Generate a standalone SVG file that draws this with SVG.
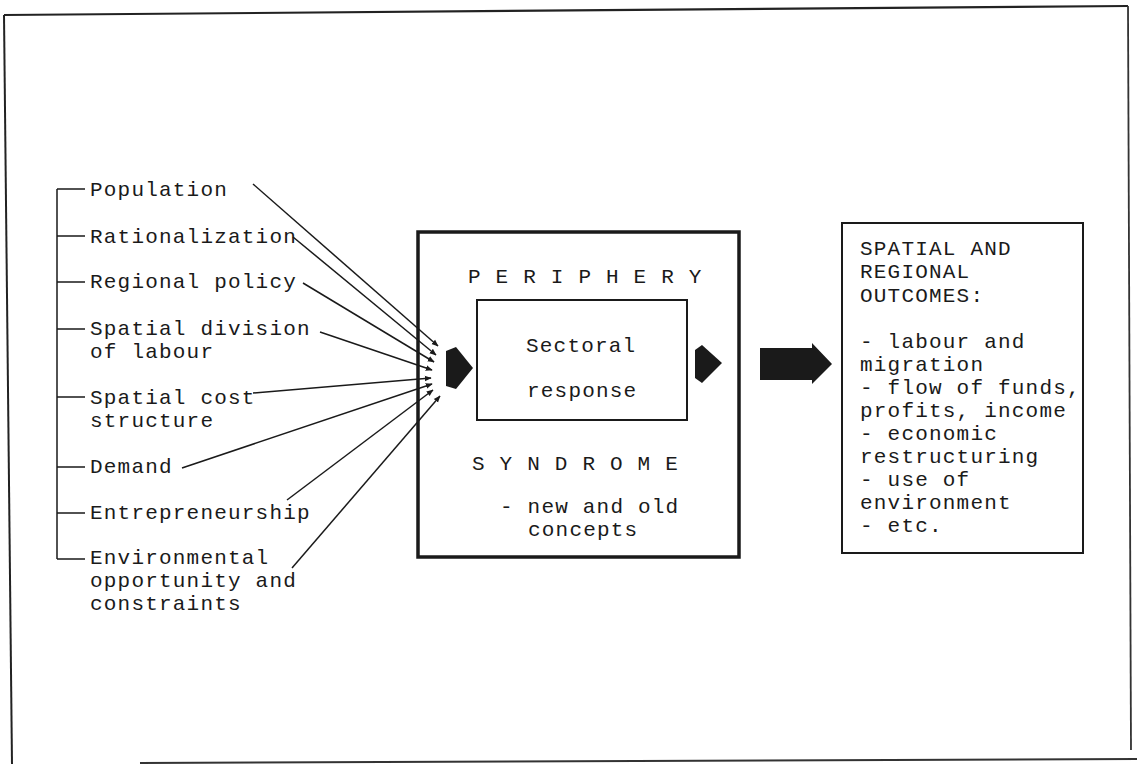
<svg xmlns="http://www.w3.org/2000/svg" width="1137" height="764" viewBox="0 0 1137 764">
<style>
text{font-family:"Liberation Mono","DejaVu Sans Mono",monospace;font-size:21px;letter-spacing:1.2px;fill:#1a1a1a}
.ln{stroke:#1a1a1a;stroke-width:1.5;fill:none}
.blk{fill:#1a1a1a;stroke:none}
</style>
<defs>
<marker id="ah" viewBox="0 0 10 10" refX="9" refY="5" markerWidth="7" markerHeight="7" markerUnits="userSpaceOnUse" orient="auto">
<path d="M0,1 L10,5 L0,9 z" fill="#1a1a1a"/>
</marker>
</defs>
<rect width="1137" height="764" fill="#fff"/>
<g id="frame">
<path d="M4,15 L1128,6" stroke="#222" stroke-width="2.2" fill="none"/>
<path d="M4,15 L12,764" stroke="#222" stroke-width="2" fill="none"/>
<path d="M1128,6 L1131,750" stroke="#333" stroke-width="1.8" fill="none"/>
<path d="M140,763 L1137,759" stroke="#333" stroke-width="2" fill="none"/>
</g>
<g id="factors">
<path class="ln" d="M57,189 V559 M57,189 H85 M57,236 H85 M57,282 H85 M57,329 H85 M57,397 H85 M57,467 H85 M57,513 H85 M57,559 H85"/>
<text x="90" y="196">Population</text>
<text x="90" y="243">Rationalization</text>
<text x="90" y="288">Regional policy</text>
<text x="90" y="335">Spatial division</text>
<text x="90" y="358">of labour</text>
<text x="90" y="404">Spatial cost</text>
<text x="90" y="427">structure</text>
<text x="90" y="473">Demand</text>
<text x="90" y="519">Entrepreneurship</text>
<text x="90" y="564">Environmental</text>
<text x="90" y="587">opportunity and</text>
<text x="90" y="610">constraints</text>
</g>
<g id="connectors" class="ln">
<line x1="253" y1="184" x2="438" y2="346" marker-end="url(#ah)"/>
<line x1="293" y1="237" x2="436" y2="355" marker-end="url(#ah)"/>
<line x1="303" y1="283" x2="434" y2="362" marker-end="url(#ah)"/>
<line x1="320" y1="332" x2="432" y2="370" marker-end="url(#ah)"/>
<line x1="253" y1="393" x2="431" y2="378" marker-end="url(#ah)"/>
<line x1="182" y1="468" x2="432" y2="384" marker-end="url(#ah)"/>
<line x1="287" y1="500" x2="433" y2="390" marker-end="url(#ah)"/>
<line x1="292" y1="568" x2="440" y2="396" marker-end="url(#ah)"/>
<polygon class="blk" points="446,351 456,347 473,368 456,389 446,386"/>
<polygon class="blk" points="695,350 702,345 722,363 702,383 695,378"/>
<polygon class="blk" points="760,348 812,348 812,343 832,364 812,384 812,380 760,380"/>
</g>
<g id="periphery">
<rect x="418" y="232" width="321" height="325" fill="none" stroke="#1a1a1a" stroke-width="3.5"/>
<text x="468" y="283">P E R I P H E R Y</text>
<text x="472" y="470">S Y N D R O M E</text>
<text x="500" y="513">- new and old</text>
<text x="528" y="536">concepts</text>
</g>
<g id="sectoral">
<rect x="477" y="300" width="210" height="120" fill="none" stroke="#1a1a1a" stroke-width="2"/>
<text x="526" y="352">Sectoral</text>
<text x="527" y="397">response</text>
</g>
<g id="outcomes">
<rect x="842" y="223" width="241" height="330" fill="none" stroke="#1a1a1a" stroke-width="2"/>
<text x="860" y="255">SPATIAL AND</text>
<text x="860" y="278">REGIONAL</text>
<text x="860" y="302">OUTCOMES:</text>
<text x="860" y="348">- labour and</text>
<text x="860" y="371">migration</text>
<text x="860" y="394">- flow of funds,</text>
<text x="860" y="417">profits, income</text>
<text x="860" y="440">- economic</text>
<text x="860" y="463">restructuring</text>
<text x="860" y="486">- use of</text>
<text x="860" y="509">environment</text>
<text x="860" y="532">- etc.</text>
</g>
</svg>
